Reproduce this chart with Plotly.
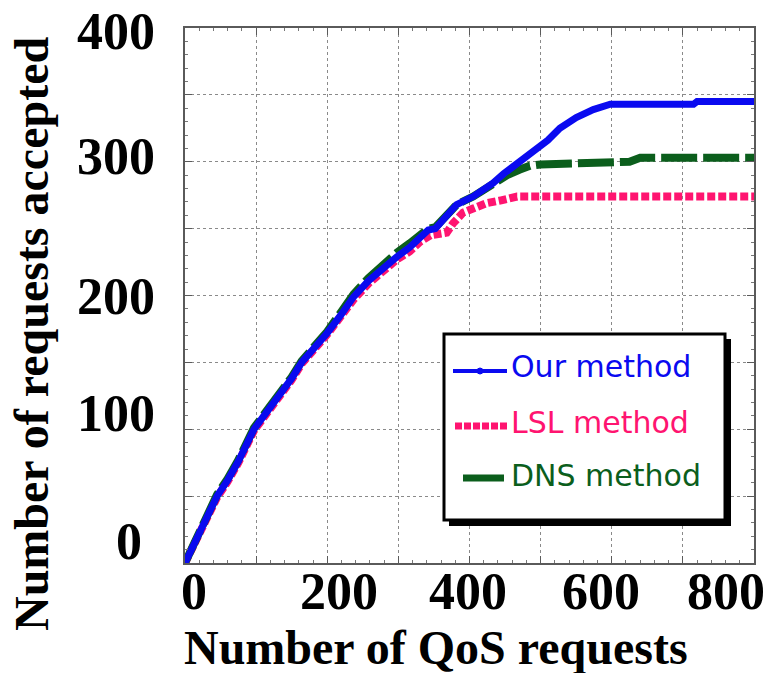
import plotly.graph_objects as go

# Accepted requests vs. offered QoS requests for the three admission methods
our_x = [0, 15, 30, 45, 60, 75, 97, 115, 134, 150, 164, 180, 200, 220, 237, 258, 279, 298,
         316, 330, 342, 352, 363, 382, 405, 420, 433, 448, 461, 475, 489, 510, 527, 550,
         574, 598, 660, 715, 720, 800]
our_y = [0, 16, 33, 50, 62, 76, 100, 113, 125, 138, 150, 159, 172, 186, 199, 211, 221, 229,
         236, 243, 249, 250, 256, 268, 274, 279, 284, 291, 296, 301, 307, 316, 325, 333,
         339, 343, 343, 343, 345, 345]

lsl_x = [0, 15, 30, 45, 60, 75, 97, 115, 134, 150, 164, 180, 200, 220, 237, 258, 279, 298,
         316, 330, 345, 368, 377, 391, 405, 424, 443, 467, 800]
lsl_y = [0, 16, 33, 49, 61, 75, 99, 112, 124, 137, 149, 158, 171, 185, 197, 209, 219, 227,
         233, 240, 245, 247, 254, 262, 265, 269, 271, 274, 274]

dns_x = [0, 15, 30, 45, 60, 75, 97, 115, 134, 150, 164, 180, 200, 220, 237, 258, 279, 298,
         316, 330, 342, 352, 363, 382, 405, 420, 433, 453, 470, 485, 500, 560, 625, 640, 800]
dns_y = [0, 17, 34, 51, 63, 77, 101, 114, 126, 139, 151, 160, 173, 188, 201, 213, 224, 232,
         239, 245, 250, 251, 257, 268, 274, 279, 284, 290, 294, 297, 298, 299, 300, 303, 303]

series_names = ["Our method", "LSL method", "DNS method"]
x_tick_vals = [0, 200, 400, 600, 800]
x_tick_text = ["0", "200", "400", "600", "800"]
y_tick_vals = [0, 100, 200, 300, 400]
y_tick_text = ["0", "100", "200", "300", "400"]

BLUE = "#0a0af0"
PINK = "#ff1470"
GREEN = "#0b5e1c"

# plot area in pixels (for layout helpers)
L, R, T, B = 185, 14, 28, 110
W, H = 768, 673
PW, PH = W - L - R, H - T - B


def px(xp):
    return (xp - L) / PW


def py(yp):
    return (H - B - yp) / PH


fig = go.Figure()
fig.add_trace(go.Scatter(x=lsl_x, y=lsl_y, mode="lines", name=series_names[1],
                         line=dict(color=PINK, width=8, dash="8px,3px"), showlegend=False))
fig.add_trace(go.Scatter(x=dns_x, y=dns_y, mode="lines", name=series_names[2],
                         line=dict(color=GREEN, width=8, dash="36px,6px"), showlegend=False))
fig.add_trace(go.Scatter(x=our_x, y=our_y, mode="lines", name=series_names[0],
                         line=dict(color=BLUE, width=7), showlegend=False))

axis_common = dict(
    showline=True, linecolor="#5a5a5a", linewidth=2, mirror="allticks",
    ticks="inside", ticklen=7, tickcolor="#5a5a5a", tickwidth=1,
    showgrid=True, gridcolor="#8a8a8a", gridwidth=1, griddash="dot",
    showticklabels=False, zeroline=False,
)

fig.update_xaxes(range=[0, 800], dtick=100, tick0=0,
                 minor=dict(ticks="inside", ticklen=3, dtick=20, tickcolor="#777", showgrid=False),
                 **axis_common)
fig.update_yaxes(range=[0, 400], dtick=50, tick0=0,
                 minor=dict(ticks="inside", ticklen=3, dtick=10, tickcolor="#777", showgrid=False),
                 **axis_common)

tick_font = dict(family="Liberation Serif", size=52, color="black")
title_font = dict(family="Liberation Serif", size=48, color="black")
ann = []

# x tick labels
x_shifts = [9, 12, -2, -11, -28]
for v, t, s in zip(x_tick_vals, x_tick_text, x_shifts):
    ann.append(dict(x=v, y=0, xref="x", yref="paper", text=f"<b>{t}</b>", showarrow=False,
                    xanchor="center", yanchor="middle", xshift=s, yshift=-28, font=tick_font))

# y tick labels
y_xshift = [-41, -28, -28, -28, -28]
y_yshift = [22, 16, -1, 5, -3]
for v, t, sx, sy in zip(y_tick_vals, y_tick_text, y_xshift, y_yshift):
    ann.append(dict(x=0, y=v, xref="paper", yref="y", text=f"<b>{t}</b>", showarrow=False,
                    xanchor="right", yanchor="middle", xshift=sx, yshift=sy, font=tick_font))

# axis titles
ann.append(dict(x=px(436), y=py(647), xref="paper", yref="paper",
                text="<b>Number of QoS requests</b>", showarrow=False,
                xanchor="center", yanchor="middle", font=title_font))
ann.append(dict(x=px(31), y=py(334), xref="paper", yref="paper",
                text="<b>Number of requests accepted</b>", showarrow=False, textangle=-90,
                xanchor="center", yanchor="middle", font=title_font))

# legend box with drop shadow
shapes = [
    dict(type="rect", xref="paper", yref="paper", x0=px(449), x1=px(731), y0=py(526), y1=py(339),
         fillcolor="black", line=dict(width=0)),
    dict(type="rect", xref="paper", yref="paper", x0=px(444), x1=px(725), y0=py(520), y1=py(334),
         fillcolor="white", line=dict(color="black", width=3)),
    dict(type="line", xref="paper", yref="paper", x0=px(453), x1=px(507), y0=py(371), y1=py(371),
         line=dict(color=BLUE, width=4)),
    dict(type="circle", xref="paper", yref="paper", x0=px(477), x1=px(483), y0=py(374), y1=py(368),
         fillcolor=BLUE, line=dict(color=BLUE, width=1)),
    dict(type="line", xref="paper", yref="paper", x0=px(455), x1=px(507), y0=py(426), y1=py(426),
         line=dict(color=PINK, width=7, dash="7px,2px")),
    dict(type="line", xref="paper", yref="paper", x0=px(463), x1=px(504), y0=py(478), y1=py(478),
         line=dict(color=GREEN, width=7)),
]

legend_font = dict(family="DejaVu Sans", size=30)
for name, col, yc in zip(series_names, [BLUE, PINK, GREEN], [366, 422, 475]):
    ann.append(dict(x=px(509), y=py(yc), xref="paper", yref="paper", text=name, showarrow=False,
                    xanchor="left", yanchor="middle", font=dict(color=col, **legend_font)))

fig.update_layout(
    width=W, height=H,
    margin=dict(l=L, r=R, t=T, b=B),
    plot_bgcolor="white", paper_bgcolor="white",
    annotations=ann, shapes=shapes,
    showlegend=False,
)

fig.write_html("out.html")
